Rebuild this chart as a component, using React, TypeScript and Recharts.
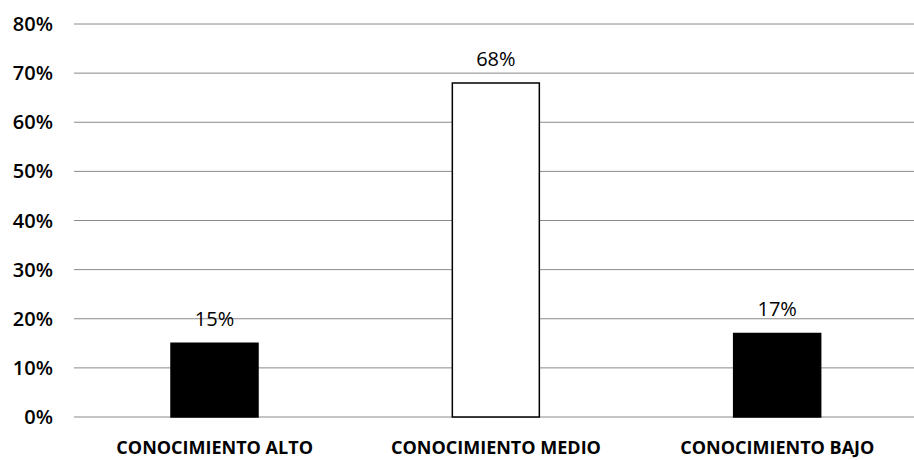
import { BarChart, Bar, XAxis, YAxis, CartesianGrid, Cell, LabelList } from "recharts";

const categories = ["CONOCIMIENTO ALTO", "CONOCIMIENTO MEDIO", "CONOCIMIENTO BAJO"];
const percents = [15, 68, 17];
const barFills = ["#000000", "#ffffff", "#000000"];
const yTicks = [0, 10, 20, 30, 40, 50, 60, 70, 80];

const data = categories.map((name, i) => ({ name, value: percents[i] }));

const FONT = "'Open Sans', 'Liberation Sans', sans-serif";

export default function App() {
  return (
    <div style={{ position: "absolute", left: 0, top: 0, background: "#fff" }}>
      <BarChart
        width={914}
        height={460}
        data={data}
        margin={{ top: 24, right: -4, bottom: 0, left: 0 }}
      >
        <CartesianGrid vertical={false} stroke="#8a8a8a" strokeWidth={1} />
        <XAxis
          dataKey="name"
          axisLine={false}
          tickLine={false}
          height={43}
          tickMargin={18}
          interval={0}
          tick={{ fontSize: 18, fontWeight: 700, fill: "#000", fontFamily: FONT }}
        />
        <YAxis
          width={74}
          domain={[0, 80]}
          ticks={yTicks}
          axisLine={false}
          tickLine={false}
          tickMargin={15}
          tickFormatter={(v) => `${v}%`}
          tick={{ fontSize: 20, fontWeight: 600, fill: "#000", fontFamily: FONT }}
        />
        <Bar dataKey="value" barSize={87} stroke="#000" strokeWidth={1.5} isAnimationActive={false}>
          {data.map((d, i) => (
            <Cell key={d.name} fill={barFills[i]} />
          ))}
          <LabelList
            dataKey="value"
            position="top"
            offset={17}
            formatter={(v) => `${v}%`}
            style={{ fontSize: 20, fill: "#000", fontFamily: FONT }}
          />
        </Bar>
      </BarChart>
    </div>
  );
}
